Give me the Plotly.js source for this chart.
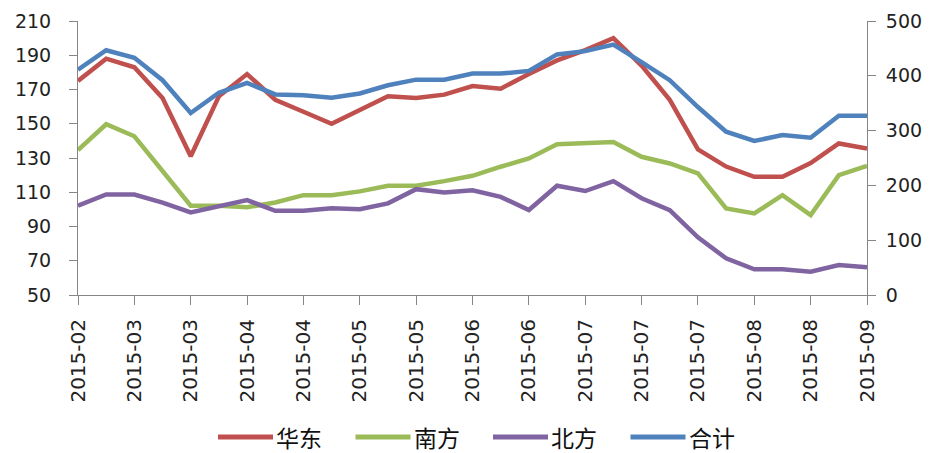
<!DOCTYPE html>
<html>
<head>
<meta charset="utf-8">
<script src="https://cdn.plot.ly/plotly-3.0.1.min.js"></script>
<style>
html,body{margin:0;padding:0;background:#fff;}
#chart{width:939px;height:453px;}
</style>
</head>
<body>
<div id="chart"></div>
<script>
// Tick labels on the category axis (one label every two weekly points)
const tickLabels = ['2015-02','2015-03','2015-03','2015-04','2015-04','2015-05','2015-05','2015-06','2015-06','2015-07','2015-07','2015-07','2015-08','2015-08','2015-09'];

// Series names
const seriesNames = ['华东', '南方', '北方', '合计'];

// Series values (weekly)
const huadong = [175, 188, 183, 165, 131, 166, 179, 164, 157, 150, 158, 166, 165, 167, 172, 170.5, 179, 187, 193, 200, 184, 164, 135, 125, 119, 119, 127, 138.5, 135.6];
const nanfang = [134.6, 149.7, 142.7, 122.5, 102.1, 102.1, 101.2, 104, 108.3, 108.3, 110.5, 113.8, 113.8, 116.5, 119.6, 124.9, 129.7, 138.1, 138.8, 139.4, 130.7, 126.8, 121, 100.6, 97.6, 108.3, 96.7, 120, 125.4];
const beifang = [102.1, 108.7, 108.7, 104, 98.2, 101.5, 105.4, 99.2, 99.2, 100.6, 100.1, 103.5, 111.8, 109.9, 111.2, 107.3, 99.6, 113.8, 110.7, 116.5, 106.5, 99.6, 83.7, 71.4, 65, 65, 63.6, 67.5, 66.2];
const heji = [411, 446.6, 433, 392, 332, 369, 387, 366, 364.6, 360, 367.7, 382.8, 393, 393, 404, 404, 409, 439, 445, 457, 425, 392, 343, 298, 281, 292, 287, 327, 327];

const colors = ['#C0504D', '#9BBB59', '#8064A2', '#4F81BD'];
const values = [huadong, nanfang, beifang, heji];
const axes = ['y', 'y', 'y', 'y2'];

const n = huadong.length;
const xs = huadong.map((_, i) => i);
const tickVals = tickLabels.map((_, i) => i * 2);

const traces = values.map((v, k) => ({
  x: xs, y: v, name: seriesNames[k], yaxis: axes[k],
  type: 'scatter', mode: 'lines',
  line: {color: colors[k], width: 4.5},
  showlegend: false, hoverinfo: 'skip'
}));

const W = 939, H = 453, mL = 78, mR = 72, mT = 21, mB = 158;
const pw = W - mL - mR, ph = H - mT - mB;
const px2x = p => (p - mL) / pw;
const py2y = p => (H - mB - p) / ph;

// custom legend
const shapes = [], annotations = [];
const legStart = 218, legStep = 137.5, legLine = 55, legY = 437;
seriesNames.forEach((nm, k) => {
  const x0 = legStart + k * legStep;
  shapes.push({type: 'line', xref: 'paper', yref: 'paper',
    x0: px2x(x0), x1: px2x(x0 + legLine), y0: py2y(legY), y1: py2y(legY),
    line: {color: colors[k], width: 5}});
  annotations.push({xref: 'paper', yref: 'paper', x: px2x(x0 + legLine + 1), y: py2y(legY),
    xanchor: 'left', yanchor: 'middle', showarrow: false, text: nm,
    font: {family: 'Noto Sans CJK SC', size: 23, color: '#111'}});
});

const axisCommon = {
  showgrid: false, zeroline: false, showline: true, linecolor: '#868686', linewidth: 1,
  ticks: 'outside', tickcolor: '#868686', ticklen: 8, tickwidth: 1,
  tickfont: {family: 'DejaVu Sans', size: 19, color: '#222'}
};

const layout = {
  width: W, height: H,
  margin: {l: mL, r: mR, t: mT, b: mB, pad: 0},
  paper_bgcolor: '#fff', plot_bgcolor: '#fff',
  showlegend: false,
  xaxis: Object.assign({}, axisCommon, {
    range: [0, n - 1], tickmode: 'array', tickvals: tickVals, ticktext: tickLabels,
    tickangle: -90, ticklen: 9, ticklabelstandoff: 6,
    tickfont: {family: 'DejaVu Sans', size: 20, color: '#222'}
  }),
  yaxis: Object.assign({}, axisCommon, {
    range: [50, 210], tickmode: 'linear', tick0: 50, dtick: 20, ticklabelstandoff: 14
  }),
  yaxis2: Object.assign({}, axisCommon, {
    range: [0, 500], tickmode: 'linear', tick0: 0, dtick: 100,
    overlaying: 'y', side: 'right', ticklabelstandoff: 6
  }),
  shapes: shapes,
  annotations: annotations
};

Plotly.newPlot('chart', traces, layout, {displayModeBar: false, staticPlot: true});
</script>
</body>
</html>
